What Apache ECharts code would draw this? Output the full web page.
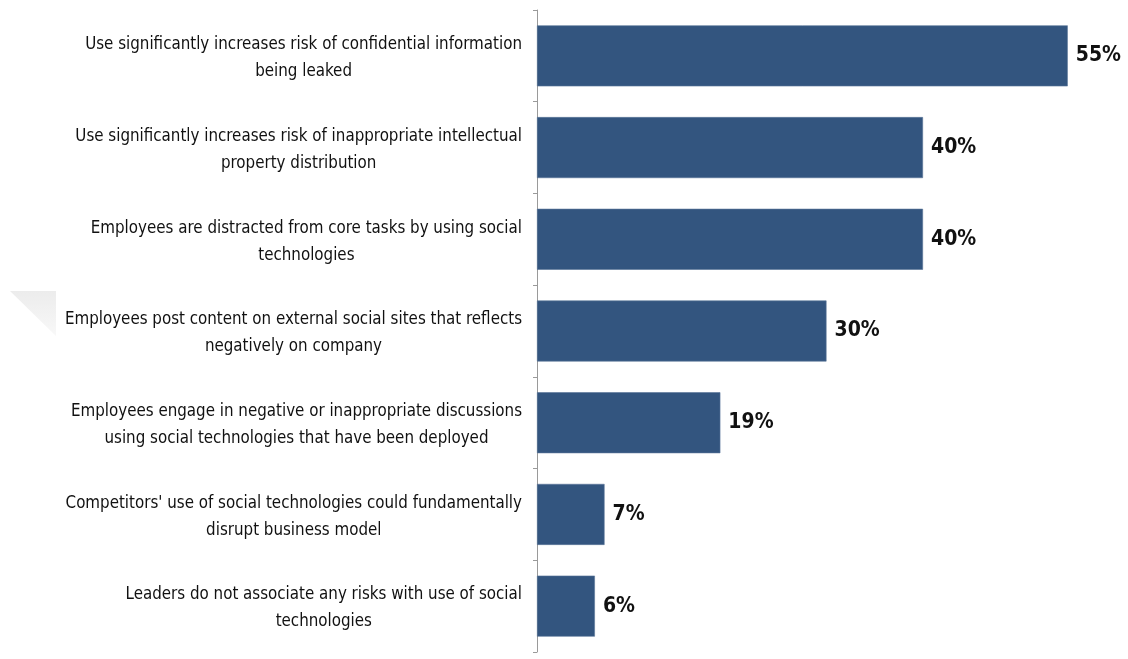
<!DOCTYPE html>
<html>
<head>
<meta charset="utf-8">
<script src="https://cdn.jsdelivr.net/npm/echarts@6/dist/echarts.min.js"></script>
<style>
  html, body { margin: 0; padding: 0; background: #ffffff; }
  #chart { width: 1128px; height: 659px; }
</style>
</head>
<body>
<div id="chart"></div>
<script>
// Perceived risks of social technologies (share of respondents, %)
const categories = [
  'Use significantly increases risk of confidential information\nbeing leaked',
  'Use significantly increases risk of inappropriate intellectual\nproperty distribution',
  'Employees are distracted from core tasks by using social\ntechnologies',
  'Employees post content on external social sites that reflects\nnegatively on company',
  'Employees engage in negative or inappropriate discussions\nusing social technologies that have been deployed',
  "Competitors' use of social technologies could fundamentally\ndisrupt business model",
  'Leaders do not associate any risks with use of social\ntechnologies'
];
const values = [55, 40, 40, 30, 19, 7, 6];

const labelFont = '"DejaVu Sans Condensed", "Liberation Sans Narrow", sans-serif';

const chart = echarts.init(document.getElementById('chart'), null, { renderer: 'canvas' });

chart.setOption({
  backgroundColor: '#ffffff',
  animation: false,
  grid: { left: 537, right: 12, top: 10, bottom: 7, containLabel: false },
  xAxis: {
    type: 'value',
    min: 0,
    max: 60,
    show: false
  },
  yAxis: {
    type: 'category',
    inverse: true,
    data: categories,
    axisLine: { show: true, lineStyle: { color: '#9a9a9a', width: 1 } },
    axisTick: { show: true, length: 4, inside: false, lineStyle: { color: '#9a9a9a' } },
    axisLabel: {
      margin: 15,
      padding: [5, 0, 0, 0],
      // each line centred inside the right-aligned label block
      formatter: function (v) {
        return v.split('\n').map(function (s) { return '{c|' + s + '}'; }).join('\n');
      },
      rich: {
        c: {
          align: 'center',
          fontFamily: labelFont,
          fontSize: 16.8,
          lineHeight: 27,
          color: '#111111'
        }
      }
    },
    splitLine: { show: false }
  },
  series: [{
    type: 'bar',
    data: values,
    barWidth: 61,
    itemStyle: { color: '#33557f', borderColor: '#5a7699', borderWidth: 0.6 },
    label: {
      show: true,
      position: 'right',
      distance: 8,
      padding: [3, 0, 0, 0],
      formatter: '{c}%',
      fontFamily: labelFont,
      fontWeight: 'bold',
      fontSize: 21,
      color: '#111111'
    }
  }],
  graphic: [{
    type: 'polygon',
    z: -1,
    shape: { points: [[10, 291], [56, 291], [56, 336]] },
    style: {
      fill: {
        type: 'linear', x: 0, y: 0, x2: 0, y2: 1,
        colorStops: [{ offset: 0, color: '#ececec' }, { offset: 1, color: '#f8f8f8' }]
      }
    }
  }]
});
</script>
</body>
</html>
